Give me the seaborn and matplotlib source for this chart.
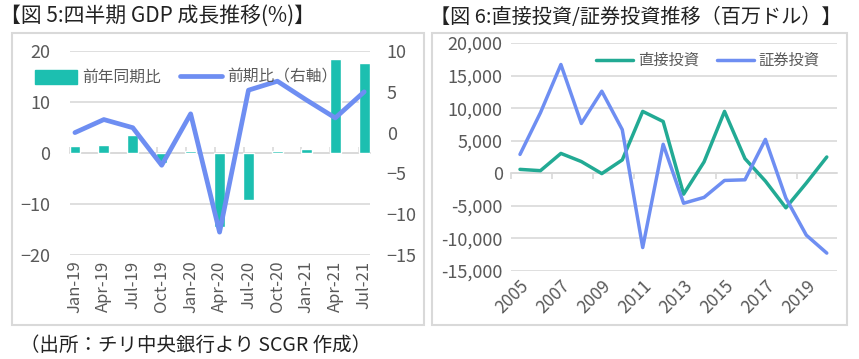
import numpy as np
import pandas as pd
import matplotlib.pyplot as plt
import seaborn as sns
from matplotlib.patches import Rectangle, Patch
from matplotlib.lines import Line2D

# --- data: fig 5 (quarterly GDP growth, %) ---
quarters = ["Jan-19", "Apr-19", "Jul-19", "Oct-19", "Jan-20", "Apr-20",
            "Jul-20", "Oct-20", "Jan-21", "Apr-21", "Jul-21"]
yoy = [1.3, 1.6, 3.5, -2.0, 0.4, -14.5, -9.2, 0.3, 0.8, 18.5, 17.6]
qoq = [0.0, 1.6, 0.6, -4.0, 2.3, -12.2, 5.2, 6.3, 4.0, 1.8, 5.0]

# --- data: fig 6 (direct / portfolio investment, USD mn) ---
years = list(range(2005, 2021))
direct = [600, 400, 3050, 1800, -50, 2050, 9500, 7950, -3200, 1750,
          9500, 2250, -1200, -5300, -1500, 2500]
portfolio = [2900, 9300, 16700, 7650, 12600, 6700, -11400, 4450, -4600, -3700,
             -1100, -1000, 5200, -3800, -9500, -12250]

teal = "#1CBFB0"
blue = "#6E8EF2"
teal_dark = "#22AA94"
grey_txt = "#595959"
grid_c = "#D9D9D9"

sns.set_style("white")
plt.rcParams["font.family"] = ["Noto Sans CJK JP", "DejaVu Sans"]

fig = plt.figure(figsize=(8.59, 3.59), dpi=100)

# chart frames
fig.patches.append(Rectangle((12 / 859, 1 - 325 / 359), 412 / 859, 292 / 359,
                             transform=fig.transFigure, fill=False,
                             edgecolor=grid_c, linewidth=1.5))
fig.patches.append(Rectangle((432 / 859, 1 - 325 / 359), 415 / 859, 292 / 359,
                             transform=fig.transFigure, fill=False,
                             edgecolor=grid_c, linewidth=1.5))

fig.text(0.0, 1 - 17 / 359, "【図 5:四半期 GDP 成長推移(%)】", fontsize=15,
         va="center", ha="left", color="#222222")
fig.text(430 / 859, 1 - 17 / 359, "【図 6:直接投資/証券投資推移（百万ドル）】",
         fontsize=14.5, va="center", ha="left", color="#222222")
fig.text(20 / 859, 1 - 345 / 359, "（出所：チリ中央銀行より SCGR 作成）",
         fontsize=14, va="center", ha="left", color="#222222")

# ---------------- left chart ----------------
gdp = pd.DataFrame({"quarter": quarters, "yoy": yoy, "qoq": qoq,
                    "pos": np.arange(len(quarters))})

ax = fig.add_axes([70 / 859, 1 - 255 / 359, 300 / 859, 204 / 359])
sns.barplot(data=gdp, x="quarter", y="yoy", color=teal, width=0.37,
            saturation=1, ax=ax)
ax.set_ylim(-20, 20)
ax.set_yticks([-20, -10, 0, 10, 20])
ax.set_xlim(-0.17, 10.2)
ax.grid(axis="y", color=grid_c, linewidth=1.2)
ax.set_axisbelow(True)
for s in ax.spines.values():
    s.set_visible(False)
ax.tick_params(axis="x", length=0, labelrotation=90, labelsize=12,
               labelcolor=grey_txt, pad=4)
ax.tick_params(axis="y", length=0, labelsize=13, labelcolor=grey_txt, pad=14)
ax.set_xlabel("")
ax.set_ylabel("")

zero = ax.secondary_xaxis(0.5)
zero.set_xticks(np.arange(len(quarters)) - 0.17, labels=[])
zero.tick_params(length=4, color=grid_c, width=1.2)
for k, s in zero.spines.items():
    s.set_color(grid_c)
    s.set_linewidth(1.2)

ax2 = ax.twinx()
sns.lineplot(data=gdp, x="pos", y="qoq", color=blue, linewidth=3.4,
             ax=ax2, sort=False)
ax2.set_ylim(-15, 10)
ax2.set_yticks([-15, -10, -5, 0, 5, 10])
ax2.set_xlim(-0.17, 10.2)
for s in ax2.spines.values():
    s.set_visible(False)
ax2.tick_params(axis="y", length=0, labelsize=13, labelcolor=grey_txt, pad=12)
ax2.set_ylabel("")
ax2.set_xlabel("")

fig.legend(handles=[Patch(facecolor=teal, edgecolor=teal),
                    Line2D([], [], color=blue, linewidth=3.4)],
           labels=["前年同期比", "前期比（右軸）"], loc="upper left",
           bbox_to_anchor=(24 / 859, 1 - 58 / 359), ncol=2, frameon=False,
           fontsize=11.3, handlelength=2.7, handleheight=1.0,
           handletextpad=0.3, columnspacing=1.2, borderpad=0.2,
           labelcolor=grey_txt)

# ---------------- right chart ----------------
inv = pd.DataFrame({"year": years * 2,
                    "value": direct + portfolio,
                    "kind": ["直接投資"] * len(years) + ["証券投資"] * len(years)})

bx = fig.add_axes([511 / 859, 1 - 271 / 359, 326 / 859, 228 / 359])
sns.lineplot(data=inv, x="year", y="value", hue="kind",
             palette={"直接投資": teal_dark, "証券投資": blue},
             linewidth=2.5, ax=bx)
bx.set_ylim(-15000, 20000)
bx.set_yticks(np.arange(-15000, 20001, 5000))
bx.yaxis.set_major_formatter(plt.FuncFormatter(lambda v, p: f"{v:,.0f}"))
bx.set_xlim(2004.56, 2020.5)
bx.set_xticks(years[::2])
bx.grid(axis="y", color=grid_c, linewidth=1.2)
bx.set_axisbelow(True)
for s in bx.spines.values():
    s.set_visible(False)
bx.tick_params(axis="y", length=0, labelsize=13, labelcolor=grey_txt, pad=6)
bx.tick_params(axis="x", length=0, labelsize=12.5, labelcolor=grey_txt, pad=4)
for lab in bx.get_xticklabels():
    lab.set_rotation(45)
    lab.set_ha("right")
    lab.set_rotation_mode("anchor")
bx.set_xlabel("")
bx.set_ylabel("")

zero2 = bx.secondary_xaxis(15000 / 35000)
zero2.set_xticks(np.arange(2004.56, 2021, 2), labels=[])
zero2.tick_params(length=4, color=grid_c, width=1.2)
for k, s in zero2.spines.items():
    s.set_color(grid_c)
    s.set_linewidth(1.2)

bx.legend(loc="upper left", bbox_to_anchor=(0.22, 1.02), ncol=2,
          frameon=False, fontsize=11, handlelength=2.4, handletextpad=0.3,
          columnspacing=1.2, labelcolor=grey_txt)
for line in bx.get_legend().get_lines():
    line.set_linewidth(2.5)

fig.savefig("out.png", dpi=100)
